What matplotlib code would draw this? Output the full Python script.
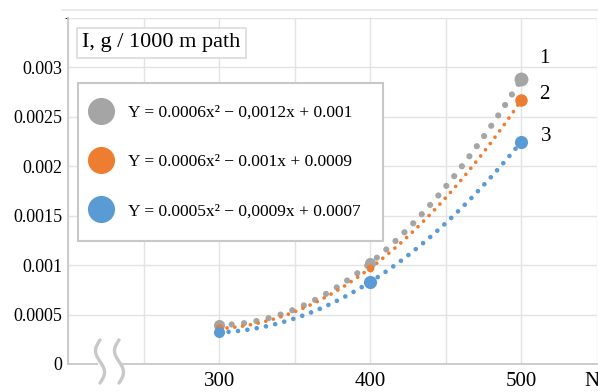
import numpy as np
import matplotlib
matplotlib.use("Agg")
import matplotlib.pyplot as plt
from matplotlib.lines import Line2D
from matplotlib.patches import Rectangle
from matplotlib.transforms import IdentityTransform

# ---- data ----
x_points = [300, 400, 500]
series1 = [0.000395, 0.00102, 0.00288]   # gray
series2 = [0.00036, 0.00097, 0.00267]    # orange
series3 = [0.00032, 0.00083, 0.00225]    # blue
series_names = ["1", "2", "3"]
equations = [
    "Y = 0.0006x² − 0,0012x + 0.001",
    "Y = 0.0006x² − 0.001x + 0.0009",
    "Y = 0.0005x² − 0,0009x + 0.0007",
]
x_tick_labels = {300: "300", 400: "400", 500: "500"}
y_ticks = [0, 0.0005, 0.001, 0.0015, 0.002, 0.0025, 0.003]
y_tick_labels = ["0", "0.0005", "0.001", "0.0015", "0.002", "0.0025", "0.003"]
y_title = "I, g / 1000 m path"
x_title = "N"

colors = ["#a5a5a5", "#ed7d31", "#5b9bd5"]
FONT = "Liberation Serif"
plt.rcParams["font.family"] = [FONT, "DejaVu Serif"]

W, H = 598, 392
fig = plt.figure(figsize=(W / 100, H / 100), dpi=100)
ax = fig.add_axes([68 / W, (H - 364) / H, (597 - 68) / W, (364 - 18) / H])
ax.set_xlim(200, 550)
ax.set_ylim(0, 0.0035)

# grid
xt = np.arange(200, 551, 50)
ax.set_xticks(xt)
ax.set_xticklabels([x_tick_labels.get(int(v), "") for v in xt], fontsize=15)
ax.set_yticks(y_ticks)
ax.set_yticklabels(y_tick_labels, fontsize=13)
ax.set_yticks([0.0035], minor=True)
ax.grid(True, which="both", color="#e3e3e3", lw=1.0, zorder=0)
ax.tick_params(length=0, pad=4)
ax.tick_params(axis="x", pad=6)
for s in ["top", "right"]:
    ax.spines[s].set_visible(False)
for s in ["left", "bottom"]:
    ax.spines[s].set_color("#c8c8c8")
    ax.spines[s].set_linewidth(1.3)

# trendlines and points
all_series = [series1, series2, series3]
dot_lw = [4.5, 2.7, 3.4]
dot_gap = [2.0, 2.1, 2.0]
big_sizes = [[8, 8, 10], [6, 5.5, 9], [8, 9.5, 9.5]]
for i, ys in enumerate(all_series):
    coef = np.polyfit(x_points, ys, 2)
    xx = np.linspace(x_points[0], x_points[-1], 300)
    ax.plot(xx, np.polyval(coef, xx), color=colors[i], lw=dot_lw[i],
            linestyle=(0, (0.001, dot_gap[i])), dash_capstyle="round", zorder=3)
    for xp, yp, ms in zip(x_points, ys, big_sizes[i]):
        ax.plot([xp], [yp], "o", color=colors[i], ms=ms, mec="none", zorder=4)

# series labels
offsets = [(13, 15), (13, 4), (14, 4)]
for i, ys in enumerate(all_series):
    ax.annotate(series_names[i], (x_points[-1], ys[-1]), xytext=offsets[i],
                textcoords="offset points", fontsize=15, va="center", ha="left")

# legend
handles = [Line2D([], [], marker="o", ls="none", color=c, mec="none", ms=19.5) for c in colors]
leg = ax.legend(handles, equations, loc="upper left",
                bbox_to_anchor=(0.019, 0.812), fontsize=12.5, frameon=True,
                fancybox=False, edgecolor="#c8c8c8", framealpha=1,
                labelspacing=1.9, handletextpad=1.55, borderpad=1.25,
                handlelength=0.1, borderaxespad=0)
leg.get_frame().set_linewidth(1.5)
leg.set_zorder(5)

# y title box
ax.text(0.027, 0.928, y_title, transform=ax.transAxes, fontsize=16, va="center",
        ha="left", zorder=6,
        bbox=dict(boxstyle="square,pad=0.25", fc="white", ec="#dcdcdc", lw=1.2))

# x title
fig.text(584 / W, 1 - 382 / H, x_title, fontsize=15, va="center", ha="left")

# top frame line
fig.add_artist(Line2D([62 / W, 1], [1 - 10 / H, 1 - 10 / H], color="#e6e6e6", lw=1.2))

# axis break marks (pixel space)
ident = IdentityTransform()
fig.add_artist(Rectangle((98, H - 367), 22, 6, transform=ident, fc="white", ec="none", zorder=10))
t = np.linspace(0, 1, 60)
for cx in [100, 119]:
    yy = 340 + 43 * t
    xxp = cx - 4.5 * np.sin(2 * np.pi * t)
    fig.add_artist(Line2D(xxp, H - yy, transform=ident, color="#c8c8c8", lw=2.4,
                          solid_capstyle="round", zorder=11))

fig.savefig("out.png", dpi=100)
